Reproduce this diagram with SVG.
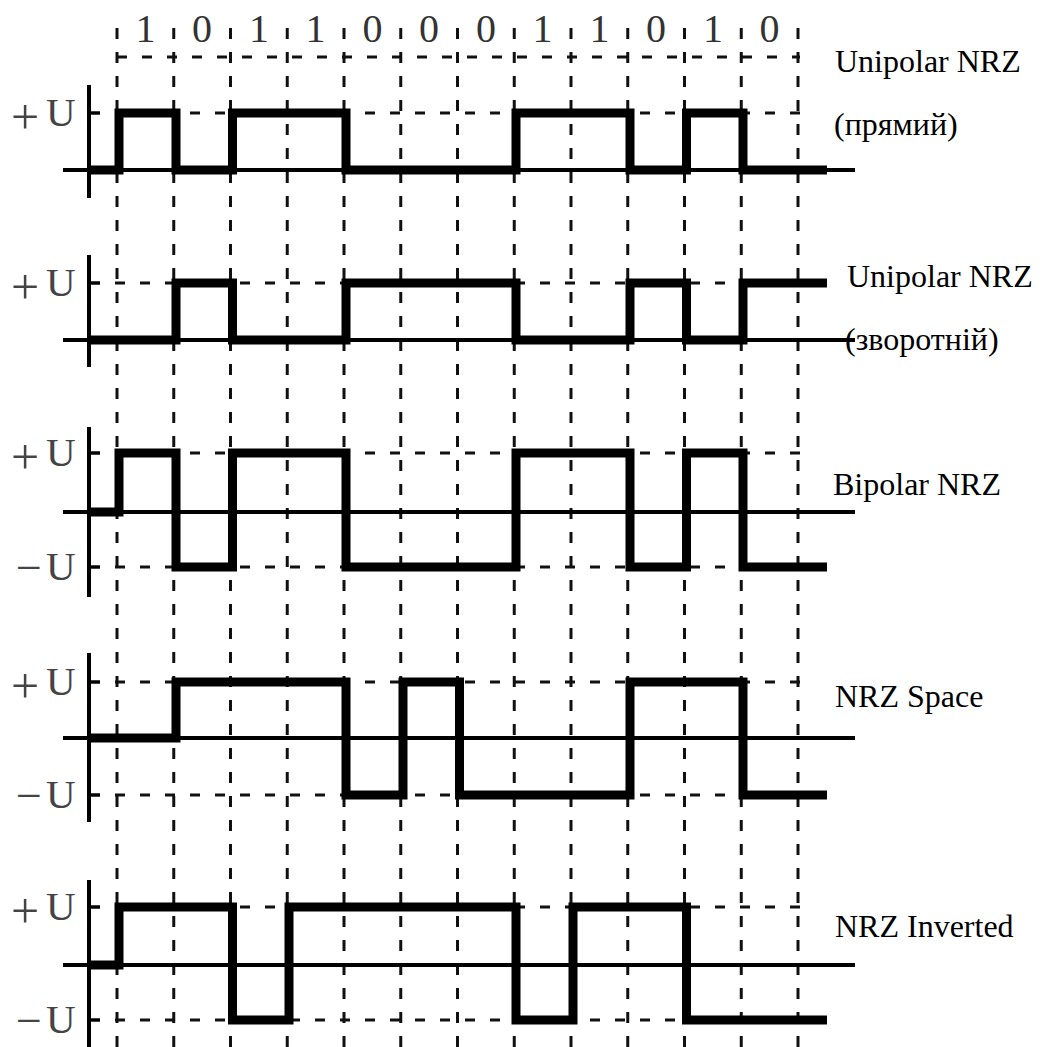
<svg xmlns="http://www.w3.org/2000/svg" width="1043" height="1047" viewBox="0 0 1043 1047">
  <style>
    .grid-v { stroke: #111; stroke-width: 3; stroke-dasharray: 11 13; fill: none; }
    .grid-h { stroke: #111; stroke-width: 3; stroke-dasharray: 10 15; fill: none; }
    .axis { stroke: #000; stroke-width: 4; fill: none; }
    .tick { stroke: #000; stroke-width: 3; fill: none; }
    .sig { stroke: #000; stroke-width: 9; fill: none; stroke-linejoin: miter; stroke-linecap: butt; }
    .bit { font-family: "Liberation Serif", "Times New Roman", serif; font-size: 40px; fill: #333; text-anchor: middle; }
    .lvl { font-family: "Liberation Serif", "Times New Roman", serif; font-size: 41px; fill: #444; }
    .sign { font-size: 50px; }
    .minus { font-size: 46px; }
    .name { font-family: "Liberation Serif", "Times New Roman", serif; font-size: 32px; fill: #000; }
  </style>

  <rect width="1043" height="1047" fill="#fff"/>

  <!-- bit clock grid -->
  <g id="grid">
    <line class="grid-v" x1="117" y1="28" x2="117" y2="1047"/>
    <line class="grid-v" x1="173.75" y1="28" x2="173.75" y2="1047"/>
    <line class="grid-v" x1="230.5" y1="28" x2="230.5" y2="1047"/>
    <line class="grid-v" x1="287.25" y1="28" x2="287.25" y2="1047"/>
    <line class="grid-v" x1="344" y1="28" x2="344" y2="1047"/>
    <line class="grid-v" x1="400.75" y1="28" x2="400.75" y2="1047"/>
    <line class="grid-v" x1="457.5" y1="28" x2="457.5" y2="1047"/>
    <line class="grid-v" x1="514.25" y1="28" x2="514.25" y2="1047"/>
    <line class="grid-v" x1="571" y1="28" x2="571" y2="1047"/>
    <line class="grid-v" x1="627.75" y1="28" x2="627.75" y2="1047"/>
    <line class="grid-v" x1="684.5" y1="28" x2="684.5" y2="1047"/>
    <line class="grid-v" x1="741.25" y1="28" x2="741.25" y2="1047"/>
    <line class="grid-v" x1="798" y1="28" x2="798" y2="1047"/>
    <line class="grid-h" x1="117" y1="57" x2="800" y2="57"/>
  </g>

  <!-- bit sequence -->
  <g id="bits">
    <text class="bit" x="145.4" y="42">1</text>
    <text class="bit" x="202.1" y="42">0</text>
    <text class="bit" x="258.9" y="42">1</text>
    <text class="bit" x="315.6" y="42">1</text>
    <text class="bit" x="372.4" y="42">0</text>
    <text class="bit" x="429.1" y="42">0</text>
    <text class="bit" x="485.9" y="42">0</text>
    <text class="bit" x="542.6" y="42">1</text>
    <text class="bit" x="599.4" y="42">1</text>
    <text class="bit" x="656.1" y="42">0</text>
    <text class="bit" x="712.9" y="42">1</text>
    <text class="bit" x="769.6" y="42">0</text>
  </g>

  <!-- Unipolar NRZ, direct -->
  <g id="unipolar-direct">
    <line class="grid-h" x1="90" y1="113" x2="800" y2="113"/>
    <line class="axis" x1="89" y1="85" x2="89" y2="198"/>
    <line class="axis" x1="63" y1="170" x2="855" y2="170"/>
    <line class="tick" x1="89" y1="113" x2="100" y2="113"/>
    <polyline class="sig" points="89,170 119,170 119,113 176,113 176,170 232.5,170 232.5,113 346,113 346,170 516,170 516,113 630,113 630,170 686.5,170 686.5,113 743,113 743,170 827,170"/>
    <text class="lvl"><tspan class="sign" x="11" y="134">+</tspan><tspan x="46" y="126">U</tspan></text>
    <text class="name" x="835" y="72">Unipolar NRZ</text>
    <text class="name" x="834" y="135">(прямий)</text>
  </g>

  <!-- Unipolar NRZ, inverse -->
  <g id="unipolar-inverse">
    <line class="grid-h" x1="90" y1="283" x2="800" y2="283"/>
    <line class="axis" x1="89" y1="255" x2="89" y2="367"/>
    <line class="axis" x1="63" y1="340" x2="855" y2="340"/>
    <line class="tick" x1="89" y1="283" x2="100" y2="283"/>
    <polyline class="sig" points="89,340 176,340 176,283 232.5,283 232.5,340 346,340 346,283 516,283 516,340 630,340 630,283 686.5,283 686.5,340 743,340 743,283 827,283"/>
    <text class="lvl"><tspan class="sign" x="11" y="304">+</tspan><tspan x="46" y="296">U</tspan></text>
    <text class="name" x="847" y="287">Unipolar NRZ</text>
    <text class="name" x="845" y="350">(зворотній)</text>
  </g>

  <!-- Bipolar NRZ -->
  <g id="bipolar">
    <line class="grid-h" x1="90" y1="453" x2="800" y2="453"/>
    <line class="grid-h" x1="90" y1="567" x2="800" y2="567"/>
    <line class="axis" x1="89" y1="427" x2="89" y2="597"/>
    <line class="axis" x1="63" y1="512" x2="855" y2="512"/>
    <line class="tick" x1="89" y1="453" x2="100" y2="453"/>
    <line class="tick" x1="89" y1="567" x2="100" y2="567"/>
    <polyline class="sig" points="89,512 119,512 119,453 176,453 176,567 232.5,567 232.5,453 346,453 346,567 516,567 516,453 630,453 630,567 686.5,567 686.5,453 743,453 743,567 827,567"/>
    <text class="lvl"><tspan class="sign" x="11" y="474">+</tspan><tspan x="46" y="466">U</tspan></text>
    <text class="lvl"><tspan class="minus" x="16" y="583">−</tspan><tspan x="46" y="580">U</tspan></text>
    <text class="name" x="833" y="495">Bipolar NRZ</text>
  </g>

  <!-- NRZ Space -->
  <g id="nrz-space">
    <line class="grid-h" x1="90" y1="682" x2="800" y2="682"/>
    <line class="grid-h" x1="90" y1="795" x2="800" y2="795"/>
    <line class="axis" x1="89" y1="653" x2="89" y2="822"/>
    <line class="axis" x1="63" y1="738" x2="855" y2="738"/>
    <line class="tick" x1="89" y1="682" x2="100" y2="682"/>
    <line class="tick" x1="89" y1="795" x2="100" y2="795"/>
    <polyline class="sig" points="89,738 176,738 176,682 346,682 346,795 403,795 403,682 459.5,682 459.5,795 630,795 630,682 743,682 743,795 827,795"/>
    <text class="lvl"><tspan class="sign" x="11" y="703">+</tspan><tspan x="46" y="695">U</tspan></text>
    <text class="lvl"><tspan class="minus" x="16" y="811">−</tspan><tspan x="46" y="808">U</tspan></text>
    <text class="name" x="835" y="707">NRZ Space</text>
  </g>

  <!-- NRZ Inverted -->
  <g id="nrz-inverted">
    <line class="grid-h" x1="90" y1="907" x2="800" y2="907"/>
    <line class="grid-h" x1="90" y1="1020" x2="800" y2="1020"/>
    <line class="axis" x1="89" y1="880" x2="89" y2="1047"/>
    <line class="axis" x1="63" y1="965" x2="855" y2="965"/>
    <line class="tick" x1="89" y1="907" x2="100" y2="907"/>
    <line class="tick" x1="89" y1="1020" x2="100" y2="1020"/>
    <polyline class="sig" points="89,965 119,965 119,907 232.5,907 232.5,1020 289,1020 289,907 516,907 516,1020 573,1020 573,907 686.5,907 686.5,1020 827,1020"/>
    <text class="lvl"><tspan class="sign" x="11" y="928">+</tspan><tspan x="46" y="920">U</tspan></text>
    <text class="lvl"><tspan class="minus" x="16" y="1036">−</tspan><tspan x="46" y="1033">U</tspan></text>
    <text class="name" x="835" y="937">NRZ Inverted</text>
  </g>
</svg>
